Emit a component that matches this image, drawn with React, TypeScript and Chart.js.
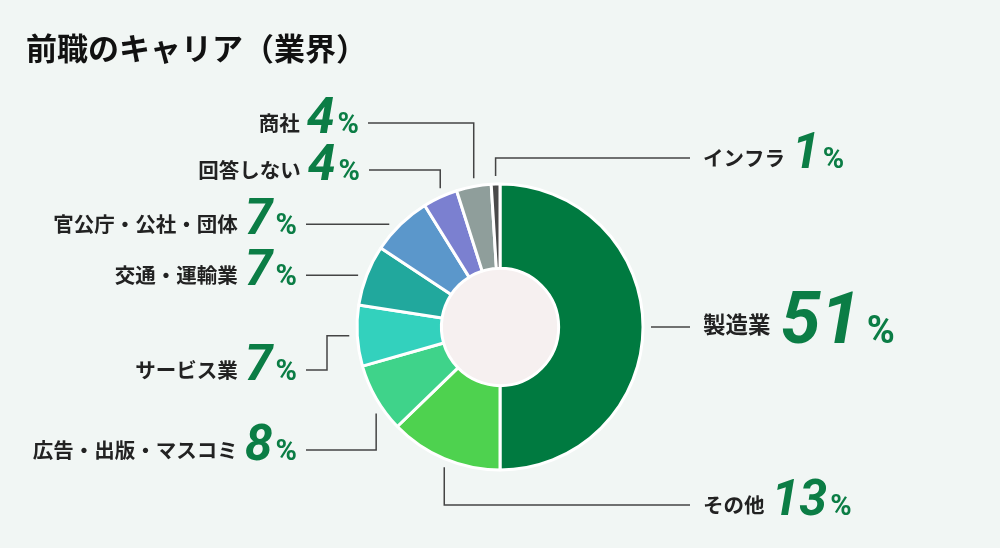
import React, { useEffect, useRef } from 'react';
import { Chart, registerables } from 'chart.js';

Chart.register(...registerables);

// ---- data ----
const TITLE = '前職のキャリア（業界）';
const categories = [
  '製造業',
  'その他',
  '広告・出版・マスコミ',
  'サービス業',
  '交通・運輸業',
  '官公庁・公社・団体',
  '回答しない',
  '商社',
  'インフラ',
];
const shares = [51, 13, 8, 7, 7, 7, 4, 4, 1];
const sliceColors = [
  '#007a40',
  '#4ed24f',
  '#3fd38a',
  '#33d1bd',
  '#21a89d',
  '#5b97cb',
  '#7b80d0',
  '#8f9e9b',
  '#4a4a4a',
];

// ---- layout (label placement / leader routing) ----
type Leader = {
  side: 'left' | 'right';
  route: 'h' | 'v' | 'hvh';
  endX: number;
  labelY?: number;
  elbowX?: number;
  big?: boolean;
};
const LEADERS: Leader[] = [
  { side: 'right', route: 'h', endX: 690, big: true },
  { side: 'right', route: 'v', labelY: 505, endX: 690 },
  { side: 'left', route: 'v', labelY: 450, endX: 306 },
  { side: 'left', route: 'hvh', elbowX: 327, labelY: 370, endX: 306 },
  { side: 'left', route: 'h', endX: 306 },
  { side: 'left', route: 'h', endX: 306 },
  { side: 'left', route: 'v', labelY: 170, endX: 369 },
  { side: 'left', route: 'v', labelY: 123, endX: 368 },
  { side: 'right', route: 'v', labelY: 158, endX: 690 },
];

const BG = '#f1f6f4';
const HOLE = '#f6f0f0';
const GREEN_TEXT = '#0b7d45';
const DARK_TEXT = '#222222';
const LINE_COLOR = '#444444';
const GAP = 8;
const JP = '"Noto Sans CJK JP", "Noto Sans", sans-serif';
const NUM = 'Roboto, "Liberation Sans", sans-serif';

const holePlugin = {
  id: 'holeFill',
  beforeDatasetsDraw(chart: any) {
    const meta = chart.getDatasetMeta(0);
    const el = meta.data[0];
    if (!el) return;
    const { x, y, innerRadius } = el.getProps(['x', 'y', 'innerRadius'], true);
    const ctx = chart.ctx;
    ctx.save();
    ctx.fillStyle = HOLE;
    ctx.beginPath();
    ctx.arc(x, y, innerRadius + 1, 0, Math.PI * 2);
    ctx.fill();
    ctx.restore();
  },
};

const labelPlugin = {
  id: 'leaderLabels',
  afterDatasetsDraw(chart: any) {
    const ctx: CanvasRenderingContext2D = chart.ctx;
    const meta = chart.getDatasetMeta(0);
    ctx.save();
    // title
    ctx.fillStyle = '#111111';
    ctx.font = `700 31px ${JP}`;
    ctx.textAlign = 'left';
    ctx.textBaseline = 'middle';
    ctx.fillText(TITLE, 26, 48);

    meta.data.forEach((el: any, i: number) => {
      const L = LEADERS[i];
      if (!L) return;
      const { x, y, startAngle, endAngle, outerRadius } = el.getProps(
        ['x', 'y', 'startAngle', 'endAngle', 'outerRadius'],
        true
      );
      const a = (startAngle + endAngle) / 2;
      const ax = x + Math.cos(a) * outerRadius;
      const ay = y + Math.sin(a) * outerRadius;
      const R = outerRadius + GAP;
      const pts: [number, number][] = [];
      let ly: number;
      if (L.route === 'h' || L.route === 'hvh') {
        const dx = Math.sqrt(Math.max(R * R - (ay - y) * (ay - y), 0));
        const sx = L.side === 'right' ? x + dx : x - dx;
        pts.push([sx, ay]);
        if (L.route === 'hvh') {
          pts.push([L.elbowX as number, ay]);
          pts.push([L.elbowX as number, L.labelY as number]);
          ly = L.labelY as number;
        } else {
          ly = ay;
        }
        pts.push([L.endX, ly]);
      } else {
        const dy = Math.sqrt(Math.max(R * R - (ax - x) * (ax - x), 0));
        const lyy = L.labelY as number;
        const sy = lyy < y ? y - dy : y + dy;
        pts.push([ax, sy]);
        pts.push([ax, lyy]);
        pts.push([L.endX, lyy]);
        ly = lyy;
      }
      ctx.strokeStyle = LINE_COLOR;
      ctx.lineWidth = 1.5;
      ctx.beginPath();
      pts.forEach((p, k) => (k === 0 ? ctx.moveTo(p[0], p[1]) : ctx.lineTo(p[0], p[1])));
      ctx.stroke();

      const big = !!L.big;
      const labelFont = big ? `700 22.5px ${JP}` : `700 20.5px ${JP}`;
      const numFont = big ? `italic 700 72px ${NUM}` : `italic 700 50px ${NUM}`;
      const pctFont = big ? `700 38px ${NUM}` : `700 29px ${NUM}`;
      const baseY = ly + (big ? 16 : 10);
      const labelY = ly + (big ? -3 : 0);
      const label = categories[i];
      const num = String(shares[i]);
      const pct = '%';

      ctx.font = labelFont;
      const lw = ctx.measureText(label).width;
      ctx.font = numFont;
      const dw = ctx.measureText(num).width;
      ctx.font = pctFont;
      const pw = ctx.measureText(pct).width;

      const gapLN = big ? 10 : 7;
      const gapNP = big ? 6 : 3;
      let lx: number, nx: number, px: number;
      if (L.side === 'right') {
        lx = L.endX + 13;
        nx = lx + lw + gapLN;
        px = nx + dw + gapNP;
      } else {
        const re = L.endX - 9;
        px = re - pw;
        nx = px - gapNP - dw;
        lx = nx - gapLN - lw;
      }
      ctx.textAlign = 'left';
      ctx.fillStyle = DARK_TEXT;
      ctx.font = labelFont;
      ctx.textBaseline = 'middle';
      ctx.fillText(label, lx, labelY);
      ctx.textBaseline = 'alphabetic';
      ctx.fillStyle = GREEN_TEXT;
      ctx.font = numFont;
      ctx.fillText(num, nx, baseY);
      ctx.font = pctFont;
      ctx.fillText(pct, px, baseY);
    });
    ctx.restore();
  },
};

export default function App() {
  const ref = useRef<HTMLCanvasElement | null>(null);
  useEffect(() => {
    if (!ref.current) return;
    const chart = new Chart(ref.current, {
      type: 'doughnut',
      data: {
        labels: categories,
        datasets: [
          {
            data: shares,
            backgroundColor: sliceColors,
            borderColor: '#ffffff',
            borderWidth: 3,
            hoverOffset: 0,
          },
        ],
      },
      options: {
        responsive: false,
        animation: false,
        radius: 143,
        cutout: '41%',
        layout: { padding: { top: 106, bottom: 0, left: 0, right: 0 } },
        plugins: {
          legend: { display: false },
          title: { display: false },
          tooltip: { enabled: false },
        },
        events: [],
      } as any,
      plugins: [holePlugin, labelPlugin],
    });
    return () => chart.destroy();
  }, []);
  return (
    <div
      style={{
        position: 'fixed',
        left: 0,
        top: 0,
        width: 1000,
        height: 548,
        background: BG,
      }}
    >
      <canvas ref={ref} width={1000} height={548} style={{ display: 'block' }} />
    </div>
  );
}
